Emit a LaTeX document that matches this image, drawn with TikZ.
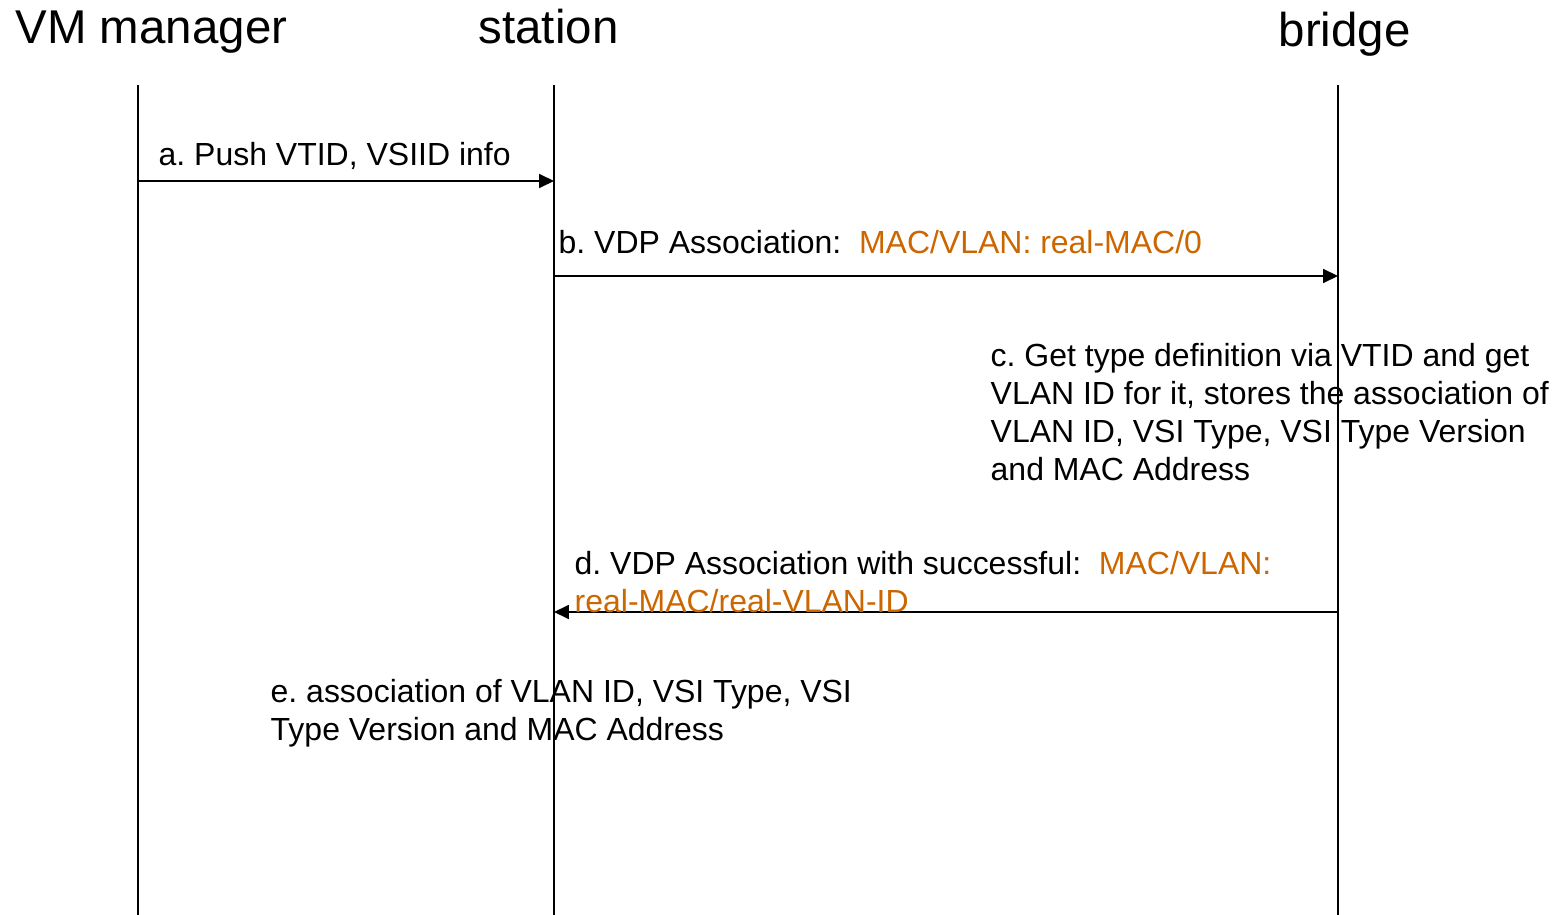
\documentclass[tikz,border=0pt]{standalone}
\usepackage{fontspec}
\setmainfont{Liberation Sans}
\usepackage{xcolor}
\usetikzlibrary{arrows.meta}
\definecolor{vdporange}{RGB}{204,102,0}
\frenchspacing

\begin{document}
\begin{tikzpicture}[x=0.02cm,y=-0.02cm,line width=0.8pt,>={Triangle[length=8.5pt,width=8pt]},
  title/.style={font=\fontsize{27}{32}\selectfont,inner sep=0pt,anchor=base west},
  msgtext/.style={font=\fontsize{18.2}{21.6}\selectfont,inner sep=0pt,anchor=base west,align=left},
  msg/.style={->}]
  \useasboundingbox (0,0) rectangle (1562,915);

  % ---------- participants ----------
  \node[title] (mgr) at (15,44)   {VM manager};
  \node[title] (sta) at (478,44)  {station};
  \node[title] (brg) at (1278,47) {bridge};

  % ---------- lifelines ----------
  \coordinate (mgr-top) at (138,85);  \coordinate (mgr-bot) at (138,915);
  \coordinate (sta-top) at (554,85);  \coordinate (sta-bot) at (554,915);
  \coordinate (brg-top) at (1338,85); \coordinate (brg-bot) at (1338,915);
  \draw (mgr-top) -- (mgr-bot);
  \draw (sta-top) -- (sta-bot);
  \draw (brg-top) -- (brg-bot);

  % ---------- messages ----------
  \coordinate (mgr-a) at (138,181);  \coordinate (sta-a) at (554,181);
  \coordinate (sta-b) at (554,276);  \coordinate (brg-b) at (1338,276);
  \coordinate (brg-d) at (1338,612); \coordinate (sta-d) at (554,612);
  \draw[msg] (mgr-a) -- (sta-a);
  \draw[msg] (sta-b) -- (brg-b);
  \draw[msg] (brg-d) -- (sta-d);

  % ---------- step texts ----------
  \node[msgtext] (txa) at (158,166) {a. Push VTID, VSIID info};
  \node[msgtext] (txb) at (558,254)
    {b. VDP Association:~ \textcolor{vdporange}{MAC/VLAN: real-MAC/0}};
  \node[msgtext] (txc) at (990,480)
    {c. Get type definition via VTID and get\\
     VLAN ID for it, stores the association of\\
     VLAN ID, VSI Type, VSI Type Version\\
     and MAC Address};
  \node[msgtext] (txd) at (574,612)
    {d. VDP Association with successful:~ \textcolor{vdporange}{MAC/VLAN:}\\
     \textcolor{vdporange}{real-MAC/real-VLAN-ID}};
  \node[msgtext] (txe) at (270,740)
    {e. association of VLAN ID, VSI Type, VSI\\
     Type Version and MAC Address};
\end{tikzpicture}
\end{document}
